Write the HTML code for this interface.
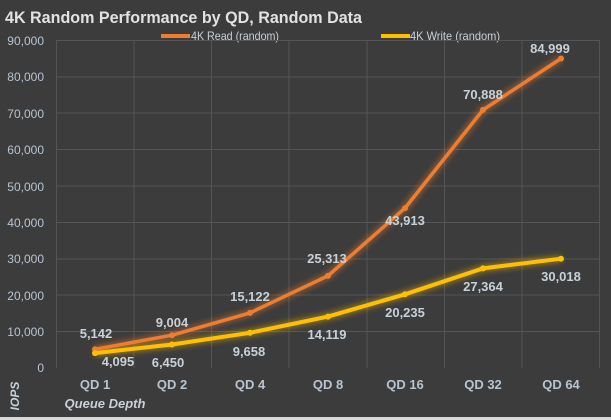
<!DOCTYPE html>
<html><head><meta charset="utf-8"><style>
html,body{margin:0;padding:0;background:#3c3c3c;}
svg{display:block;font-family:"Liberation Sans",sans-serif;}
</style></head><body>
<svg width="611" height="420" viewBox="0 0 611 420" xmlns="http://www.w3.org/2000/svg">
<defs>
<filter id="glow" x="-20%" y="-20%" width="140%" height="140%"><feGaussianBlur stdDeviation="3"/></filter>
</defs>
<rect width="611" height="420" fill="#3c3c3c"/>
<rect x="0" y="417" width="611" height="3" fill="#d8d8d8"/>
<text x="5" y="23" font-size="17" font-weight="bold" fill="#e2e2e2" textLength="357" lengthAdjust="spacingAndGlyphs">4K Random Performance by QD, Random Data</text>
<line x1="161" y1="36" x2="190" y2="36" stroke="#ed7d31" stroke-width="4"/>
<text x="191" y="40" font-size="12" fill="#c8d0d8" textLength="88" lengthAdjust="spacingAndGlyphs">4K Read (random)</text>
<line x1="381" y1="36" x2="410" y2="36" stroke="#ffc000" stroke-width="4"/>
<text x="410" y="40" font-size="12" fill="#c8d0d8" textLength="90" lengthAdjust="spacingAndGlyphs">4K Write (random)</text>
<g stroke="#555" stroke-width="1">
<line x1="56" y1="40.5" x2="600" y2="40.5"/>
<line x1="56" y1="77" x2="600" y2="77"/>
<line x1="56" y1="113" x2="600" y2="113"/>
<line x1="56" y1="149.5" x2="600" y2="149.5"/>
<line x1="56" y1="186" x2="600" y2="186"/>
<line x1="56" y1="222.5" x2="600" y2="222.5"/>
<line x1="56" y1="259" x2="600" y2="259"/>
<line x1="56" y1="295" x2="600" y2="295"/>
<line x1="56" y1="331.5" x2="600" y2="331.5"/>
<line x1="56.5" y1="40" x2="56.5" y2="368"/>
<line x1="134" y1="40" x2="134" y2="368"/>
<line x1="211.5" y1="40" x2="211.5" y2="368"/>
<line x1="289" y1="40" x2="289" y2="368"/>
<line x1="367" y1="40" x2="367" y2="368"/>
<line x1="444.5" y1="40" x2="444.5" y2="368"/>
<line x1="522" y1="40" x2="522" y2="368"/>
<line x1="599.5" y1="40" x2="599.5" y2="368"/>
</g>
<g font-size="12" fill="#b8c4d0" text-anchor="end">
<text x="44" y="45">90,000</text><text x="44" y="81">80,000</text><text x="44" y="118">70,000</text>
<text x="44" y="154">60,000</text><text x="44" y="191">50,000</text><text x="44" y="227">40,000</text>
<text x="44" y="263">30,000</text><text x="44" y="300">20,000</text><text x="44" y="336">10,000</text>
<text x="44" y="372">0</text>
</g>
<g font-size="13" font-weight="bold" fill="#b8c4d0" text-anchor="middle">
<text x="95" y="389">QD 1</text><text x="172" y="389">QD 2</text><text x="250" y="389">QD 4</text>
<text x="328" y="389">QD 8</text><text x="405" y="389">QD 16</text><text x="483" y="389">QD 32</text><text x="561" y="389">QD 64</text>
</g>
<text x="105" y="408" font-size="13" font-weight="bold" font-style="italic" fill="#c8d0d8" text-anchor="middle">Queue Depth</text>
<text transform="translate(19,396) rotate(-90)" font-size="12" font-weight="bold" font-style="italic" fill="#c8d0d8" text-anchor="middle">IOPS</text>
<polyline points="95,349.3 172,335.2 250,312.9 328,275.8 405,208.1 483,109.9 561,58.5" fill="none" stroke="#ed7d31" stroke-width="7" opacity="0.45" filter="url(#glow)"/>
<polyline points="95,353.1 172,344.5 250,332.8 328,316.6 405,294.3 483,268.4 561,258.7" fill="none" stroke="#ffc000" stroke-width="7" opacity="0.45" filter="url(#glow)"/>
<polyline points="95,349.3 172,335.2 250,312.9 328,275.8 405,208.1 483,109.9 561,58.5" fill="none" stroke="#ed7d31" stroke-width="3.5" stroke-linejoin="round"/>
<polyline points="95,353.1 172,344.5 250,332.8 328,316.6 405,294.3 483,268.4 561,258.7" fill="none" stroke="#ffc000" stroke-width="4" stroke-linejoin="round"/>
<g fill="#ed7d31"><circle cx="95" cy="349.3" r="3"/><circle cx="172" cy="335.2" r="3"/><circle cx="250" cy="312.9" r="3"/><circle cx="328" cy="275.8" r="3"/><circle cx="405" cy="208.1" r="3"/><circle cx="483" cy="109.9" r="3"/><circle cx="561" cy="58.5" r="3"/></g>
<g fill="#ffc000"><circle cx="95" cy="353.1" r="3"/><circle cx="172" cy="344.5" r="3"/><circle cx="250" cy="332.8" r="3"/><circle cx="328" cy="316.6" r="3"/><circle cx="405" cy="294.3" r="3"/><circle cx="483" cy="268.4" r="3"/><circle cx="561" cy="258.7" r="3"/></g>
<g font-size="13" font-weight="bold" fill="#c8d0d8" text-anchor="middle">
<text x="96" y="338">5,142</text><text x="172" y="327">9,004</text><text x="250" y="301">15,122</text>
<text x="327" y="263">25,313</text><text x="405" y="225">43,913</text><text x="483" y="99">70,888</text><text x="550" y="53">84,999</text>
<text x="118" y="366">4,095</text><text x="168" y="367">6,450</text><text x="249" y="356">9,658</text>
<text x="327" y="339">14,119</text><text x="405" y="317">20,235</text><text x="483" y="291">27,364</text><text x="561" y="281">30,018</text>
</g>
</svg>
</body></html>
